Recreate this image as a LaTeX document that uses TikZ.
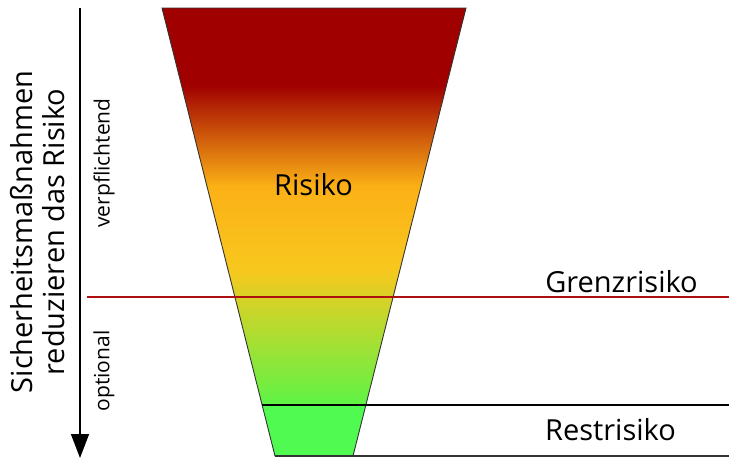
\documentclass[tikz,border=0pt]{standalone}
\usepackage{fontspec}
\setmainfont{Open Sans}
\usetikzlibrary{arrows.meta}
\definecolor{dred}{RGB}{160,0,0}
\definecolor{orng}{RGB}{251,176,22}
\definecolor{yell}{RGB}{248,200,30}
\definecolor{lgrn}{RGB}{92,244,70}
\definecolor{bgrn}{RGB}{80,250,80}
\definecolor{limit}{RGB}{172,16,16}
\begin{document}
\begin{tikzpicture}[x=1pt,y=-1pt,
  big/.style={font=\fontsize{29}{32}\selectfont, inner sep=0pt},
  small/.style={font=\fontsize{21}{25}\selectfont, inner sep=0pt, rotate=90},
  outline/.style={draw=black!80, line width=0.9pt},
  level/.style={line width=2pt}]
\useasboundingbox (0,0) rectangle (729,459);
\coordinate (tl) at (162,8);
\coordinate (tr) at (466,8);
\coordinate (br) at (353,456);
\coordinate (bl) at (275,456);
\begin{scope}
  \clip (tl) -- (tr) -- (br) -- (bl) -- cycle;
  \fill[dred] (150,0) rectangle (480,86);
  \shade[top color=dred, bottom color=orng] (150,85) rectangle (480,186);
  \shade[top color=orng, bottom color=yell] (150,185) rectangle (480,271);
  \shade[top color=yell, bottom color=lgrn] (150,270) rectangle (480,406);
  \fill[bgrn] (150,405) rectangle (480,460);
\end{scope}
\draw[outline] (tl) -- (tr) -- (br) -- (bl) -- cycle;
% levels
\coordinate (g1) at (87,297);
\coordinate (g2) at (729,297);
\coordinate (r1) at (262,405);
\coordinate (r2) at (729,405);
\coordinate (b2) at (729,456);
\draw[level, limit] (g1) -- (g2);
\draw[level, black] (r1) -- (r2);
\draw[line width=1.5pt, black!80] (bl) -- (b2);
% arrow
\coordinate (a1) at (80,8);
\coordinate (a2) at (80,458);
\draw[line width=1.5pt, -{Triangle[length=24pt,width=18pt]}] (a1) -- (a2);
% labels
\node[big, anchor=base] (risk) at (313.5,195) {Risiko};
\node[big, anchor=base] (grenz) at (621.5,292) {Grenzrisiko};
\node[big, anchor=base] (rest) at (610.5,440) {Restrisiko};
\node[big, rotate=90, align=center] (main) at (38,232) {Sicherheitsmaßnahmen\\reduzieren das Risiko};
\node[small] (verp) at (104,163) {verpflichtend};
\node[small] (opt) at (104,371) {optional};
\end{tikzpicture}
\end{document}
